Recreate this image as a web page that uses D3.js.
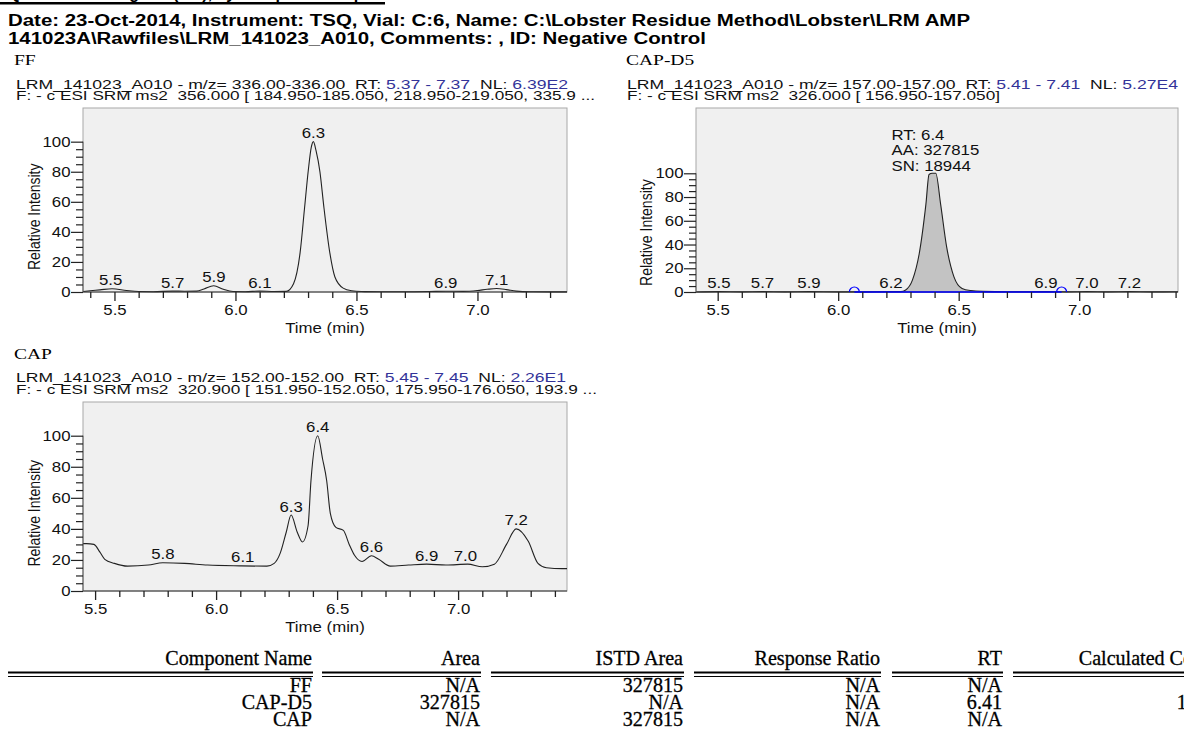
<!DOCTYPE html>
<html><head><meta charset="utf-8">
<script src="https://cdn.jsdelivr.net/npm/d3@7"></script>
<style>
html,body{margin:0;padding:0;background:#fff;}
svg{display:block;}
</style></head><body>
<svg id="c" width="1184" height="735"></svg>
<script>
// ---------------- DATA ----------------
const headerTop = "Quan Chromatogram (MS), by Component Report";
const headerLine1 = "Date: 23-Oct-2014, Instrument: TSQ, Vial: C:6, Name: C:\\Lobster Residue Method\\Lobster\\LRM AMP";
const headerLine2 = "141023A\\Rawfiles\\LRM_141023_A010, Comments: , ID: Negative Control";

const panelNames = ["FF", "CAP-D5", "CAP"];
const panelMz = ["336.00-336.00", "157.00-157.00", "152.00-152.00"];
const panelRT = ["5.37 - 7.37", "5.41 - 7.41", "5.45 - 7.45"];
const panelNL = ["6.39E2", "5.27E4", "2.26E1"];
const panelFilter = [
  "F: - c ESI SRM ms2  356.000 [ 184.950-185.050, 218.950-219.050, 335.9 ...",
  "F: - c ESI SRM ms2  326.000 [ 156.950-157.050]",
  "F: - c ESI SRM ms2  320.900 [ 151.950-152.050, 175.950-176.050, 193.9 ..."
];
const rtRanges = [[5.37, 7.37], [5.41, 7.41], [5.45, 7.45]];

const xMajorTicks = [5.5, 6.0, 6.5, 7.0];
const yMajorTicks = [0, 20, 40, 60, 80, 100];

// FF trace (relative intensity %)
const ffTimes = [5.37, 5.40, 5.44, 5.49, 5.55, 5.60, 5.66, 5.74, 5.79, 5.84, 5.87, 5.91, 5.95, 5.99, 6.04, 6.10, 6.16, 6.21, 6.24, 6.267, 6.285, 6.301, 6.313, 6.322, 6.333, 6.349, 6.365, 6.39, 6.411, 6.445, 6.48, 6.52, 6.60, 6.70, 6.80, 6.869, 6.94, 7.00, 7.04, 7.079, 7.12, 7.16, 7.22, 7.30, 7.37];
const ffValues = [0.3, 0.8, 1.4, 2.2, 1.0, 0.3, 0.2, 0.6, 0.5, 0.6, 2.0, 4.2, 1.8, 0.3, 0.2, 0.6, 0.3, 0.4, 5.5, 26, 55, 81, 96, 100, 94, 80, 57, 26, 10, 2.6, 0.8, 0.3, 0.2, 0.2, 0.3, 0.5, 0.4, 1.0, 1.8, 2.3, 1.6, 0.6, 0.2, 0.1, 0.1];
const ffPeakTimes = [5.484, 5.74, 5.911, 6.101, 6.322, 6.869, 7.079];
const ffPeakLabels = ["5.5", "5.7", "5.9", "6.1", "6.3", "6.9", "7.1"];

// CAP-D5 trace
const capd5Times = [5.41, 5.505, 5.60, 5.686, 5.78, 5.879, 6.00, 6.10, 6.219, 6.26, 6.28, 6.308, 6.336, 6.364, 6.377, 6.39, 6.405, 6.425, 6.45, 6.48, 6.514, 6.55, 6.60, 6.70, 6.862, 6.95, 7.032, 7.12, 7.208, 7.30, 7.41];
const capd5Values = [0, 0.3, 0.1, 0.3, 0.1, 0.3, 0.1, 0.1, 0.3, 0.3, 1.7, 10, 32, 74, 99, 100, 100, 74, 38, 13, 3, 1.2, 0.5, 0.2, 0.3, 0.1, 0.3, 0.1, 0.3, 0.1, 0.2];
const capd5PeakTimes = [5.505, 5.686, 5.879, 6.219, 6.862, 7.032, 7.208];
const capd5PeakLabels = ["5.5", "5.7", "5.9", "6.2", "6.9", "7.0", "7.2"];
const capd5Baseline = [6.067, 6.927];
const capd5Annotation = ["RT: 6.4", "AA: 327815", "SN: 18944"];

// CAP trace
const capTimes = [5.45, 5.465, 5.495, 5.52, 5.54, 5.58, 5.634, 5.72, 5.78, 5.87, 5.965, 6.10, 6.21, 6.24, 6.265, 6.29, 6.31, 6.335, 6.357, 6.38, 6.392, 6.42, 6.44, 6.457, 6.472, 6.495, 6.526, 6.55, 6.572, 6.603, 6.642, 6.672, 6.72, 6.795, 6.87, 6.95, 7.04, 7.10, 7.15, 7.20, 7.24, 7.29, 7.33, 7.365, 7.43, 7.45];
const capValues = [30.5, 30.5, 30, 25, 20.4, 17.8, 16, 16.7, 18.2, 17.8, 16.7, 16.2, 16, 17.8, 24.4, 38, 48.9, 38, 31.6, 42, 71, 100, 85, 71, 50, 41, 39, 30, 23, 19, 22.7, 20.4, 16, 16.7, 17.3, 16.7, 17.3, 15.6, 17.3, 30, 40, 32, 17.8, 15, 14.4, 14.4];
const capPeakTimes = [5.78, 6.11, 6.31, 6.42, 6.642, 6.87, 7.03, 7.24];
const capPeakLabels = ["5.8", "6.1", "6.3", "6.4", "6.6", "6.9", "7.0", "7.2"];

// Table
const tableHeaders = ["Component Name", "Area", "ISTD Area", "Response Ratio", "RT", "Calculated Conc"];
const tableComponent = ["FF", "CAP-D5", "CAP"];
const tableArea = ["N/A", "327815", "N/A"];
const tableIstdArea = ["327815", "N/A", "327815"];
const tableResponseRatio = ["N/A", "N/A", "N/A"];
const tableRT = ["N/A", "6.41", "N/A"];
const tableCalcConc = ["", "1.00", ""];

// ---------------- DRAWING ----------------
const SX = 1.2;
const ARIAL = "Arial, 'Liberation Sans', sans-serif";
const TIMES = "'Times New Roman', 'Liberation Serif', serif";
const svg = d3.select("#c");

function stext(parent, x, y, str, o = {}) {
  const t = parent.append("text")
    .attr("transform", `translate(${x},${y}) scale(${o.sx || SX},1)`)
    .attr("font-family", o.family || ARIAL)
    .attr("font-size", o.size || 14)
    .attr("font-weight", o.weight || "normal")
    .attr("text-anchor", o.anchor || "start")
    .attr("fill", o.fill || "#111")
    .text(str);
  if (o.stroke) t.attr("stroke", o.stroke).attr("stroke-width", o.strokeWidth || 0.3);
  return t;
}
function ltext(parent, x, y, len, o = {}) {
  const t = parent.append("text")
    .attr("x", x).attr("y", y)
    .attr("font-family", o.family || ARIAL)
    .attr("font-size", o.size || 14)
    .attr("font-weight", o.weight || "normal")
    .attr("fill", o.fill || "#111")
    .attr("textLength", len)
    .attr("lengthAdjust", "spacingAndGlyphs");
  return t;
}
function valueAt(times, vals, t) {
  const i = d3.bisectLeft(times, t);
  if (i <= 0) return vals[0];
  if (i >= times.length) return vals[vals.length - 1];
  const f = (t - times[i - 1]) / (times[i] - times[i - 1]);
  return vals[i - 1] + f * (vals[i] - vals[i - 1]);
}

// header
svg.append("text").attr("x", 8).attr("y", -1).attr("font-family", ARIAL).attr("font-size", 16)
  .attr("font-weight", "bold").attr("fill", "#000").attr("textLength", 377).attr("lengthAdjust", "spacingAndGlyphs").text(headerTop);
svg.append("line").attr("x1", 0).attr("x2", 385).attr("y1", 3.2).attr("y2", 3.2).attr("stroke", "#000").attr("stroke-width", 2.4);
ltext(svg, 8, 26, 962, { size: 16, weight: "bold", fill: "#000" }).text(headerLine1);
ltext(svg, 8, 43.5, 698, { size: 16, weight: "bold", fill: "#000" }).text(headerLine2);

const panels = [
  { idx: 0, times: ffTimes, vals: ffValues, pt: ffPeakTimes, pl: ffPeakLabels,
    left: 83, right: 567, top: 108, bottom: 292, yMax: 122.4,
    nameX: 14, nameY: 65, infoX: 16, infoY: 88.8, line1Len: 552, line2Len: 579, ylabX: 39.5 },
  { idx: 1, times: capd5Times, vals: capd5Values, pt: capd5PeakTimes, pl: capd5PeakLabels,
    left: 696, right: 1178, top: 108, bottom: 292, yMax: 155,
    nameX: 626, nameY: 65, infoX: 627, infoY: 88.8, line1Len: 551, line2Len: 373, ylabX: 652 },
  { idx: 2, times: capTimes, vals: capValues, pt: capPeakTimes, pl: capPeakLabels,
    left: 83, right: 567, top: 402, bottom: 591, yMax: 121.7,
    nameX: 14, nameY: 359, infoX: 16, infoY: 382.3, line1Len: 550, line2Len: 581, ylabX: 39.5 }
];

panels.forEach((p, k) => {
  const g = svg.append("g");
  const x = d3.scaleLinear().domain(rtRanges[p.idx]).range([p.left, p.right]);
  const y = d3.scaleLinear().domain([0, p.yMax]).range([p.bottom, p.top]);

  // titles
  stext(g, p.nameX, p.nameY, panelNames[p.idx], { family: TIMES, size: 15, sx: 1.3, fill: "#000" });
  const t1 = ltext(g, p.infoX, p.infoY, p.line1Len, { size: 13 });
  t1.append("tspan").text(`LRM_141023_A010 - m/z= ${panelMz[p.idx]}  RT: `);
  t1.append("tspan").attr("fill", "#333399").text(panelRT[p.idx]);
  t1.append("tspan").text("  NL: ");
  t1.append("tspan").attr("fill", "#333399").text(panelNL[p.idx]);
  t1.attr("xml:space", "preserve");
  ltext(g, p.infoX, p.infoY + 11.6, p.line2Len, { size: 13 }).attr("xml:space", "preserve").text(panelFilter[p.idx]);

  // frame
  g.append("rect").attr("x", p.left).attr("y", p.top)
    .attr("width", p.right - p.left).attr("height", p.bottom - p.top)
    .attr("fill", "#f0f0f0").attr("stroke", "#a8a8a8").attr("stroke-width", 1);

  const clipId = "clip" + k;
  g.append("clipPath").attr("id", clipId).append("rect")
    .attr("x", p.left).attr("y", p.top).attr("width", p.right - p.left).attr("height", p.bottom - p.top + 1);
  const data = p.times.map((t, i) => [t, p.vals[i]]);

  // integrated area (CAP-D5)
  if (p.idx === 1) {
    const [b0, b1] = capd5Baseline;
    const sub = data.filter(d => d[0] >= b0 && d[0] <= b1);
    sub.unshift([b0, valueAt(p.times, p.vals, b0)]);
    sub.push([b1, valueAt(p.times, p.vals, b1)]);
    g.append("path").attr("clip-path", `url(#${clipId})`)
      .attr("d", d3.area().x(d => x(d[0])).y0(y(0)).y1(d => y(d[1])).curve(d3.curveMonotoneX)(sub))
      .attr("fill", "#c3c3c3");
  }

  g.append("path").attr("clip-path", `url(#${clipId})`)
    .attr("d", d3.line().x(d => x(d[0])).y(d => y(d[1])).curve(d3.curveMonotoneX)(data))
    .attr("fill", "none").attr("stroke", "#222").attr("stroke-width", 1.1);

  // bottom axis line
  g.append("line").attr("x1", p.left).attr("x2", p.right).attr("y1", p.bottom).attr("y2", p.bottom)
    .attr("stroke", "#333").attr("stroke-width", 1.2);
  // left spine
  g.append("line").attr("x1", p.left).attr("x2", p.left).attr("y1", y(0)).attr("y2", y(100))
    .attr("stroke", "#555").attr("stroke-width", 1);

  if (p.idx === 1) {
    const [b0, b1] = capd5Baseline;
    g.append("line").attr("x1", x(b0)).attr("x2", x(b1)).attr("y1", y(0)).attr("y2", y(0))
      .attr("stroke", "#0000ff").attr("stroke-width", 1.5);
    [b0, b1].forEach(b => {
      const cx = x(b), cy = y(0);
      g.append("path").attr("d", `M${cx - 5},${cy} A5,5 0 0 1 ${cx + 5},${cy}`)
        .attr("fill", "none").attr("stroke", "#0000ff").attr("stroke-width", 1.2);
    });
    capd5Annotation.forEach((s, i) => stext(g, 891.5, 139.5 + i * 15.6, s, { fill: "#111" }));
  }

  // x axis ticks
  const [d0, d1] = rtRanges[p.idx];
  const minor = d3.range(Math.ceil(d0 * 10 - 1e-9), Math.floor(d1 * 10 + 1e-9) + 1).map(v => v / 10)
    .filter(v => !xMajorTicks.some(m => Math.abs(m - v) < 1e-6));
  const xMinorAxis = g.append("g").attr("transform", `translate(0,${p.bottom})`)
    .call(d3.axisBottom(x).tickValues(minor).tickSize(6).tickFormat(""));
  const xMajorAxis = g.append("g").attr("transform", `translate(0,${p.bottom})`)
    .call(d3.axisBottom(x).tickValues(xMajorTicks).tickSize(9).tickPadding(12).tickFormat(d3.format(".1f")));
  [xMinorAxis, xMajorAxis].forEach(a => {
    a.select(".domain").remove();
    a.selectAll("line").attr("stroke", "#222").attr("stroke-width", 1.3);
  });
  xMajorAxis.selectAll("text").attr("font-family", ARIAL).attr("font-size", 14).attr("fill", "#111")
    .attr("dy", null).attr("y", 23).attr("transform", `scale(${SX},1)`);

  // y axis
  const yMinor = d3.range(5, 100, 5).filter(v => v % 20 !== 0);
  const yMinorAxis = g.append("g").attr("transform", `translate(${p.left},0)`)
    .call(d3.axisLeft(y).tickValues(yMinor).tickSize(7).tickFormat(""));
  const yMajorAxis = g.append("g").attr("transform", `translate(${p.left},0)`)
    .call(d3.axisLeft(y).tickValues(yMajorTicks).tickSize(12).tickPadding(1).tickFormat(d3.format("d")));
  [yMinorAxis, yMajorAxis].forEach(a => {
    a.select(".domain").remove();
    a.selectAll("line").attr("stroke", "#222").attr("stroke-width", 1.2);
  });
  yMajorAxis.selectAll("text").attr("font-family", ARIAL).attr("font-size", 14).attr("fill", "#111")
    .attr("x", -12.5 / SX).attr("transform", `scale(${SX},1)`);

  // axis titles
  stext(g, (p.left + p.right) / 2, p.bottom + 41, "Time (min)", { anchor: "middle" });
  g.append("text")
    .attr("transform", `translate(${p.ylabX},${(y(0) + y(100)) / 2}) rotate(-90) scale(1,${SX})`)
    .attr("font-family", ARIAL).attr("font-size", 14).attr("text-anchor", "middle").attr("fill", "#111")
    .text("Relative Intensity");

  // peak labels
  p.pt.forEach((t, i) => {
    const v = valueAt(p.times, p.vals, t);
    stext(g, x(t), y(v) - 3.5, p.pl[i], { anchor: "middle" });
  });
});

// ---------------- TABLE ----------------
const tg = svg.append("g");
const colRight = [312, 480, 683, 880, 1002, 1212];
const segs = [[8, 313], [322, 481], [491, 684], [694, 881], [892, 1003], [1013, 1184]];
const TS = { family: TIMES, size: 20.5, sx: 0.98, anchor: "end", fill: "#000", stroke: "#000", strokeWidth: 0.3 };
tableHeaders.forEach((h, i) => stext(tg, colRight[i], 665, h, TS));
segs.forEach(s => {
  tg.append("line").attr("x1", s[0]).attr("x2", s[1]).attr("y1", 672.5).attr("y2", 672.5).attr("stroke", "#000").attr("stroke-width", 2);
  tg.append("line").attr("x1", s[0]).attr("x2", s[1]).attr("y1", 676.5).attr("y2", 676.5).attr("stroke", "#000").attr("stroke-width", 1);
});
const cols = [tableComponent, tableArea, tableIstdArea, tableResponseRatio, tableRT, tableCalcConc];
for (let r = 0; r < 3; r++) {
  cols.forEach((c, i) => { if (c[r]) stext(tg, colRight[i], 691.5 + r * 17, c[r], TS); });
}
</script>
</body></html>
